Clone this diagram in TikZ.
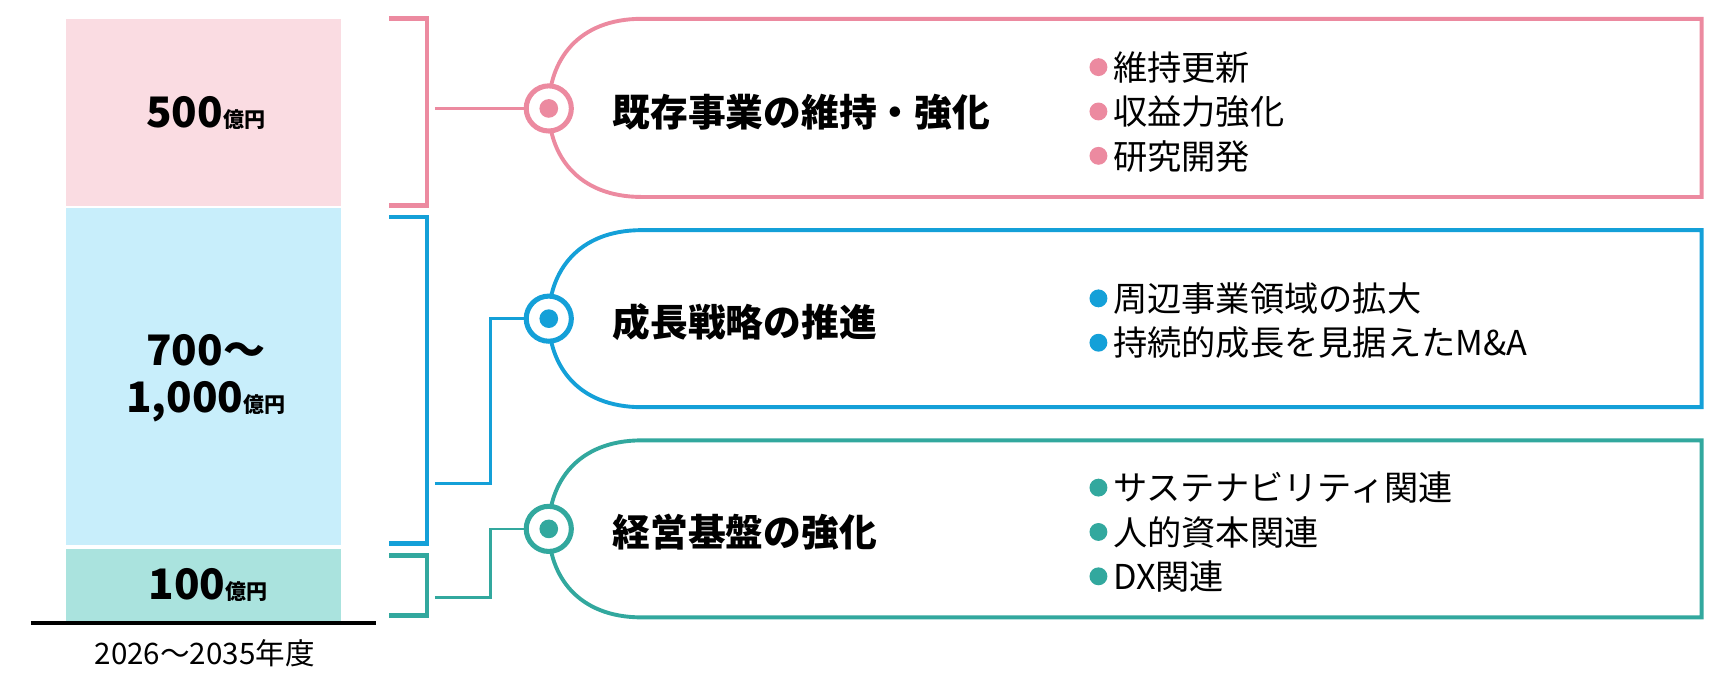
\documentclass[tikz,border=0pt]{standalone}
\usepackage{fontspec}
\setmainfont{Noto Sans CJK JP}
\definecolor{kpink}{RGB}{236,138,160}
\definecolor{kpinkbg}{RGB}{250,220,226}
\definecolor{kblue}{RGB}{20,160,216}
\definecolor{kbluebg}{RGB}{200,238,251}
\definecolor{kteal}{RGB}{50,168,158}
\definecolor{ktealbg}{RGB}{170,227,222}
\usetikzlibrary{calc}
\usetikzlibrary{positioning}
\newcommand{\oku}{{\fontsize{5.4pt}{6pt}\selectfont 億円}}
\newcommand{\dotb}[1]{\tikz[baseline=-3.4pt]\fill[#1] (0,0) circle (2.3pt);\,}

\begin{document}
\begin{tikzpicture}[x=0.01cm,y=-0.01cm]
	 \useasboundingbox (0,0) rectangle (1560,611);
	 \tikzstyle{bar}=[inner sep=0pt,font=\bfseries\fontsize{10.8pt}{12pt}\selectfont,align=center]
	 \tikzstyle{title}=[anchor=west,inner sep=0pt,font=\bfseries\fontsize{9.7pt}{11pt}\selectfont]
	 \tikzstyle{item}=[anchor=west,inner sep=0pt,font=\fontsize{8.8pt}{11.4pt}\selectfont,align=left]
	 \tikzstyle{ring}=[circle,draw,line width=1.3pt,minimum size=11.6pt,inner sep=0pt]
	 \tikzstyle{link}=[line width=0.7pt]
	 % bars
	 \fill[kpinkbg] (60,17) rectangle (308,186);
	 \fill[kbluebg] (60,188) rectangle (308,493);
	 \fill[ktealbg] (60,496) rectangle (308,562);
	 \node[bar] (b1) at (186,102) {500\oku};
	 \node[bar] (b2) at (186,342) {700～\\1,000\oku};
	 \node[bar] (b3) at (188,529) {100\oku};
	 \draw[line width=1.2pt] (28,563) -- (340,563);
	 \node[font=\fontsize{7.6pt}{8pt}\selectfont] (yr) at (185,590) {2026～2035年度};
	 % brackets
	 \draw[kpink,line width=1.2pt] (352,17) -- (386,17) -- (386,186) -- (352,186);
	 \draw[kblue,line width=1.2pt] (352,196) -- (386,196) -- (386,491) -- (352,491);
	 \draw[kteal,line width=1.2pt] (352,502) -- (386,502) -- (386,556) -- (352,556);
	 % boxes
	 \draw[kpink,line width=1pt] (1538,17) -- (580,17) .. controls (522,17) and (496,55) .. (496,98) .. controls (496,140) and (522,178) .. (580,178) -- (1538,178) -- cycle;
	 \draw[kblue,line width=1pt] (1538,208) -- (580,208) .. controls (522,208) and (496,246) .. (496,288) .. controls (496,330) and (522,368) .. (580,368) -- (1538,368) -- cycle;
	 \draw[kteal,line width=1pt] (1538,398) -- (580,398) .. controls (522,398) and (496,436) .. (496,478) .. controls (496,520) and (522,558) .. (580,558) -- (1538,558) -- cycle;
	 % rings
	 \node[ring,draw=kpink,fill=white] (r1) at (496,98) {};
	 \node[ring,draw=kblue,fill=white] (r2) at (496,288) {};
	 \node[ring,draw=kteal,fill=white] (r3) at (496,478) {};
	 \fill[kpink] (r1) circle (2.4pt);
	 \fill[kblue] (r2) circle (2.4pt);
	 \fill[kteal] (r3) circle (2.4pt);
	 % links
	 \coordinate (s1) at (393,98);
	 \coordinate (s2) at (393,437);
	 \coordinate (s3) at (393,540);
	 \draw[link,kpink] (s1) -- (r1.west);
	 \draw[link,kblue] (s2) -- (443,437) |- (r2.west);
	 \draw[link,kteal] (s3) -- (443,540) |- (r3.west);
	 % titles
	 \node[title] (t1) at (553,101) {既存事業の維持・強化};
	 \node[title] (t2) at (553,291) {成長戦略の推進};
	 \node[title] (t3) at (553,481) {経営基盤の強化};
	 % items
	 \node[item] (i1) at (984,101) {\dotb{kpink}維持更新\\\dotb{kpink}収益力強化\\\dotb{kpink}研究開発};
	 \node[item] (i2) at (984,290) {\dotb{kblue}周辺事業領域の拡大\\\dotb{kblue}持続的成長を見据えたM\&A};
	 \node[item] (i3) at (984,481) {\dotb{kteal}サステナビリティ関連\\\dotb{kteal}人的資本関連\\\dotb{kteal}DX関連};
\end{tikzpicture}
\end{document}
